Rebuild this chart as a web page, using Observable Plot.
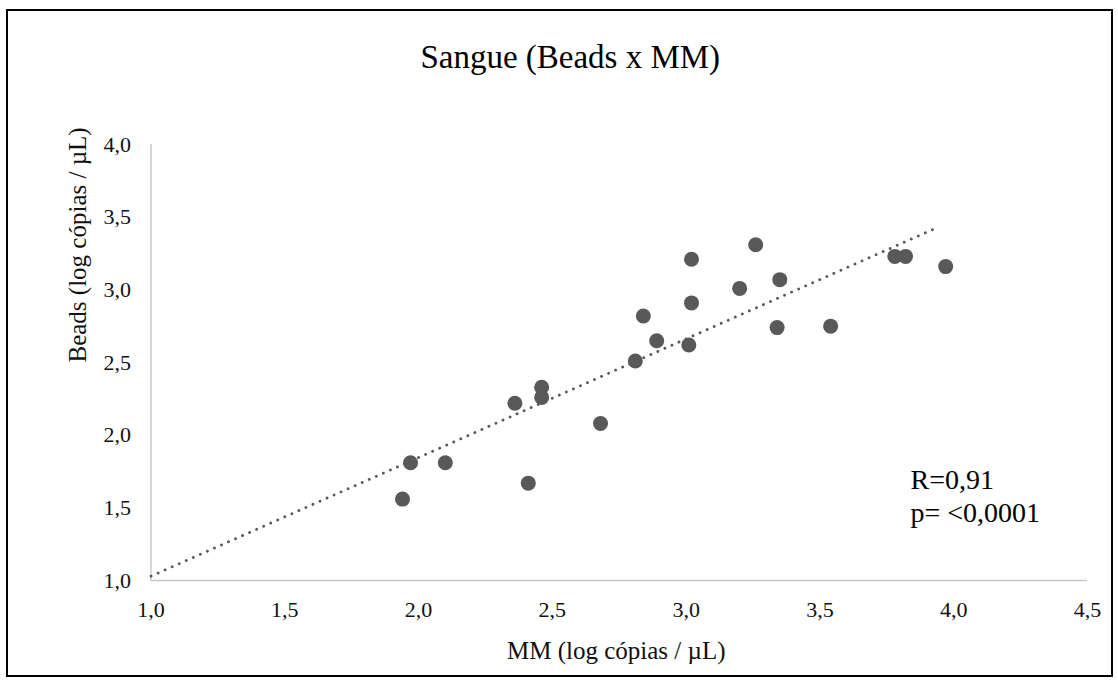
<!DOCTYPE html>
<html><head><meta charset="utf-8">
<script src="https://cdn.jsdelivr.net/npm/d3@7"></script>
<script src="https://cdn.jsdelivr.net/npm/@observablehq/plot@0.6"></script>
<style>
html,body{margin:0;padding:0;background:#fff;}
#wrap{position:relative;width:1118px;height:680px;overflow:hidden;}
#frame{position:absolute;left:6px;top:9px;width:1107px;height:668px;border:2px solid #000;box-sizing:border-box;pointer-events:none;}
#chart{position:absolute;left:0;top:0;}
#chart svg, #chart svg text, #chart svg g { font-family: "Liberation Serif", "DejaVu Serif", serif !important; }
</style></head><body>
<div id="wrap"><div id="chart"></div><div id="frame"></div></div>
<script>
const title = "Sangue (Beads x MM)";
const xLabel = "MM (log cópias / µL)";
const yLabel = "Beads (log cópias / µL)";
const statLines = ["R=0,91", "p= <0,0001"];
const xTicks = [1, 1.5, 2, 2.5, 3, 3.5, 4, 4.5];
const yTicks = [1, 1.5, 2, 2.5, 3, 3.5, 4];
const mm    = [1.94, 1.97, 2.10, 2.36, 2.41, 2.46, 2.46, 2.68, 2.81, 2.84, 2.89, 3.01, 3.02, 3.02, 3.20, 3.26, 3.35, 3.34, 3.54, 3.78, 3.82, 3.97];
const beads = [1.56, 1.81, 1.81, 2.22, 1.67, 2.33, 2.26, 2.08, 2.51, 2.82, 2.65, 2.62, 2.91, 3.21, 3.01, 3.31, 3.07, 2.74, 2.75, 3.23, 3.23, 3.16];
const trendX = [1.0, 3.94];
const trendY = [1.03, 3.43];

const pts = mm.map((x, i) => ({x, y: beads[i]}));
const trend = trendX.map((x, i) => ({x, y: trendY[i]}));
const fmt = d => d.toFixed(1).replace(".", ",");
const FONT = "'Liberation Serif', 'DejaVu Serif', serif";
const axisColor = "#c8c8c8";
const markColor = "#595959";

const chart = Plot.plot({
  width: 1118,
  height: 680,
  marginLeft: 150.5,
  marginRight: 31,
  marginTop: 144,
  marginBottom: 100,
  style: {fontFamily: FONT, background: "transparent"},
  x: {domain: [1, 4.5]},
  y: {domain: [1, 4]},
  marks: [
    Plot.ruleY([1], {x1: 1, x2: 4.5, stroke: axisColor, strokeWidth: 1.5}),
    Plot.ruleX([1], {y1: 1, y2: 4, stroke: axisColor, strokeWidth: 1.5}),
    Plot.axisX({ticks: xTicks, tickFormat: fmt, tickSize: 0, tickPadding: 21, fontSize: 22, fill: "#111", label: null}),
    Plot.axisY({ticks: yTicks, tickFormat: fmt, tickSize: 0, tickPadding: 20, fontSize: 22, fill: "#111", label: null}),
    Plot.line(trend, {x: "x", y: "y", stroke: markColor, strokeWidth: 2.8, strokeDasharray: "0.1 7.6", strokeLinecap: "round"}),
    Plot.dot(pts, {x: "x", y: "y", r: 7.5, fill: markColor, stroke: "none"}),
    Plot.text([title], {frameAnchor: "top", dx: -49, dy: -87, lineAnchor: "middle", fontSize: 33, fill: "#000"}),
    Plot.text([xLabel], {frameAnchor: "bottom", dx: -3, dy: 70, lineAnchor: "middle", fontSize: 25, fill: "#111"}),
    Plot.text([yLabel], {frameAnchor: "left", dx: -73, rotate: -90, lineAnchor: "middle", fontSize: 25, fill: "#111"}),
    Plot.text([statLines[0]], {frameAnchor: "bottom-right", dx: -177, dy: -100, textAnchor: "start", lineAnchor: "middle", fontSize: 28, fill: "#000"}),
    Plot.text([statLines[1]], {frameAnchor: "bottom-right", dx: -177, dy: -67, textAnchor: "start", lineAnchor: "middle", fontSize: 28, fill: "#000"})
  ]
});
document.getElementById("chart").appendChild(chart);
</script>
</body></html>
